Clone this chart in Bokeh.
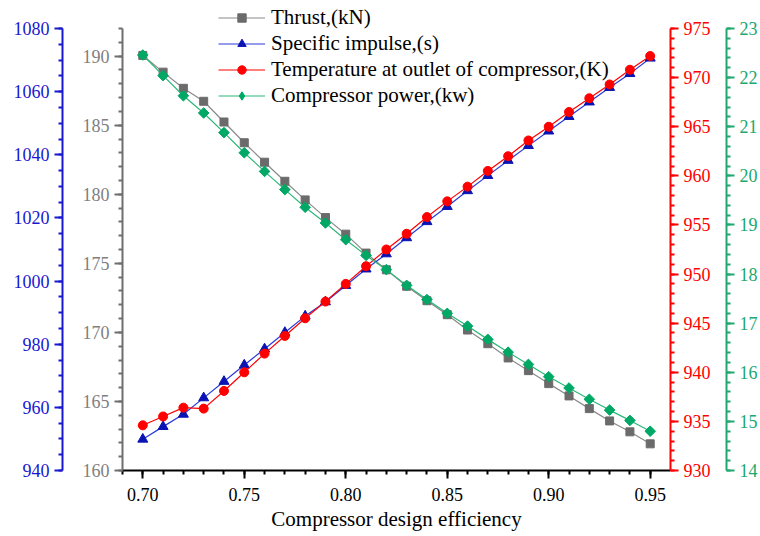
from bokeh.plotting import figure
from bokeh.models import (Range1d, LinearAxis, SingleIntervalTicker, PrintfTickFormatter,
                          Legend, LegendItem)
from bokeh.embed import file_html
from bokeh.resources import INLINE

efficiency = [0.70, 0.71, 0.72, 0.73, 0.74, 0.75, 0.76, 0.77, 0.78, 0.79, 0.80, 0.81, 0.82,
              0.83, 0.84, 0.85, 0.86, 0.87, 0.88, 0.89, 0.90, 0.91, 0.92, 0.93, 0.94, 0.95]
thrust = [190.05, 188.84, 187.67, 186.73, 185.23, 183.73, 182.32, 180.94, 179.59, 178.31,
          177.11, 175.74, 174.53, 173.34, 172.29, 171.28, 170.17, 169.18, 168.15, 167.23,
          166.29, 165.40, 164.48, 163.59, 162.80, 161.93]
specific_impulse = [949.9, 953.9, 957.8, 963.0, 968.2, 973.4, 978.5, 983.7, 988.9, 993.4,
                    998.6, 1003.8, 1008.6, 1013.7, 1018.8, 1023.6, 1028.6, 1033.4, 1038.2,
                    1042.9, 1047.5, 1052.1, 1056.7, 1061.3, 1065.7, 1070.6]
temperature = [934.6, 935.5, 936.4, 936.3, 938.1, 940.0, 941.9, 943.7, 945.5, 947.2, 949.0,
               950.8, 952.5, 954.1, 955.8, 957.4, 958.9, 960.5, 962.0, 963.6, 965.0, 966.5,
               967.9, 969.3, 970.8, 972.2]
power = [22.46, 22.04, 21.63, 21.28, 20.88, 20.47, 20.09, 19.72, 19.36, 19.04, 18.70, 18.38,
         18.09, 17.77, 17.48, 17.20, 16.94, 16.67, 16.41, 16.16, 15.91, 15.68, 15.45, 15.23,
         15.02, 14.80]

# axis extents (tick range) of the four value axes
thrust_axis = (160, 192)
isp_axis = (940, 1080)
temp_axis = (930, 975)
power_axis = (14, 23)

labels = ["Thrust,(kN)", "Specific impulse,(s)",
          "Temperature at outlet of compressor,(K)", "Compressor power,(kw)"]
x_title = "Compressor design efficiency"

FONT = "Liberation Serif"
GRAY_M, GRAY_L, GRAY_AX, GRAY_T = "#6b6b6b", "#8a8a8a", "#6e6e6e", "#808080"
BLUE_M, BLUE_L, BLUE_AX = "#0a14b4", "#2a3ad8", "#1818d0"
RED = "#ff0000"
GREEN_M, GREEN_L, GREEN_AX = "#00a866", "#2cb878", "#20a870"

AXIS_PX = 442.0    # pixel height of the axis span
FRAME_PX = 470     # frame is taller so the legend above the axes is not clipped
EXTRA = (FRAME_PX - AXIS_PX) / AXIS_PX


def ext(lo_hi):
    lo, hi = lo_hi
    return Range1d(lo, hi + (hi - lo) * EXTRA)


p = figure(frame_width=548, frame_height=FRAME_PX, output_backend="svg", toolbar_location=None,
           x_range=Range1d(0.69, 0.96), y_range=ext(thrust_axis),
           min_border_left=122, min_border_right=90, min_border_top=0, min_border_bottom=66)
p.extra_y_ranges = {"isp": ext(isp_axis), "temp": ext(temp_axis), "pow": ext(power_axis)}
p.xgrid.visible = False
p.ygrid.visible = False
p.outline_line_color = None
p.background_fill_color = "white"
p.border_fill_color = "white"


def style(ax, color, tcolor, interval, nminor, fmt=None):
    ax.ticker = SingleIntervalTicker(interval=interval, num_minor_ticks=nminor)
    ax.axis_line_color = color
    ax.axis_line_width = 2
    ax.major_tick_line_color = color
    ax.major_tick_line_width = 2
    ax.minor_tick_line_color = color
    ax.minor_tick_line_width = 2
    ax.major_tick_out = 8
    ax.major_tick_in = 0
    ax.minor_tick_out = 4
    ax.minor_tick_in = 0
    ax.major_label_text_font = FONT
    ax.major_label_text_font_size = "18px"
    ax.major_label_text_color = tcolor
    ax.major_label_standoff = 5
    if fmt:
        ax.formatter = PrintfTickFormatter(format=fmt)


# x axis
xa = p.xaxis[0]
style(xa, "black", "black", 0.05, 5, "%.2f")
xa.major_label_standoff = 9
xa.axis_label = x_title
xa.axis_label_text_font = FONT
xa.axis_label_text_font_size = "21px"
xa.axis_label_text_font_style = "normal"
xa.axis_label_text_color = "black"
xa.axis_label_standoff = 3

# gray (thrust) axis, inner left
ga = p.yaxis[0]
style(ga, GRAY_AX, GRAY_T, 5, 5)
ga.bounds = thrust_axis
ga.axis_label = " "
ga.axis_label_text_font_size = "1px"
ga.axis_label_standoff = 13

# blue (specific impulse) axis, outer left
ba = LinearAxis(y_range_name="isp", bounds=isp_axis)
style(ba, BLUE_AX, BLUE_AX, 20, 4)
p.add_layout(ba, "left")

# red (temperature) axis, inner right
ra = LinearAxis(y_range_name="temp", bounds=temp_axis)
style(ra, RED, RED, 5, 5)
ra.axis_label = " "
ra.axis_label_text_font_size = "1px"
ra.axis_label_standoff = 9
p.add_layout(ra, "right")

# green (power) axis, outer right
gra = LinearAxis(y_range_name="pow", bounds=power_axis)
style(gra, GREEN_AX, GREEN_AX, 1, 5)
p.add_layout(gra, "right")

l1 = p.line(efficiency, thrust, line_color=GRAY_L, line_width=1.2)
s1 = p.scatter(efficiency, thrust, marker="square", size=8, fill_color=GRAY_M, line_color=GRAY_M)

l2 = p.line(efficiency, specific_impulse, y_range_name="isp", line_color=BLUE_L, line_width=1.2)
s2 = p.scatter(efficiency, specific_impulse, y_range_name="isp", marker="triangle", size=10,
               fill_color=BLUE_M, line_color=BLUE_M)

l3 = p.line(efficiency, temperature, y_range_name="temp", line_color=RED, line_width=1.2)
s3 = p.scatter(efficiency, temperature, y_range_name="temp", marker="circle", size=9,
               fill_color=RED, line_color=RED)

l4 = p.line(efficiency, power, y_range_name="pow", line_color=GREEN_L, line_width=1.2)
s4 = p.scatter(efficiency, power, y_range_name="pow", marker="square", angle=0.785398, size=7.5,
               fill_color=GREEN_M, line_color=GREEN_M)
# legend-only diamond swatch (an invisible NaN point, used only for the legend key)
s4_key = p.scatter([float("nan")], [float("nan")], y_range_name="pow", marker="diamond",
                   size=10, fill_color=GREEN_M, line_color=GREEN_M)

legend = Legend(items=[LegendItem(label=labels[0], renderers=[l1, s1]),
                       LegendItem(label=labels[1], renderers=[l2, s2]),
                       LegendItem(label=labels[2], renderers=[l3, s3]),
                       LegendItem(label=labels[3], renderers=[l4, s4_key])],
                location=(96, 362), orientation="vertical")
legend.label_text_font = FONT
legend.label_text_font_size = "21px"
legend.label_text_color = "black"
legend.glyph_width = 47
legend.glyph_height = 21
legend.label_height = 21
legend.spacing = 1
legend.padding = 0
legend.margin = 0
legend.label_standoff = 6
legend.border_line_alpha = 0
legend.background_fill_alpha = 0
p.add_layout(legend, "center")

open("out.html", "w").write(file_html(p, INLINE))
